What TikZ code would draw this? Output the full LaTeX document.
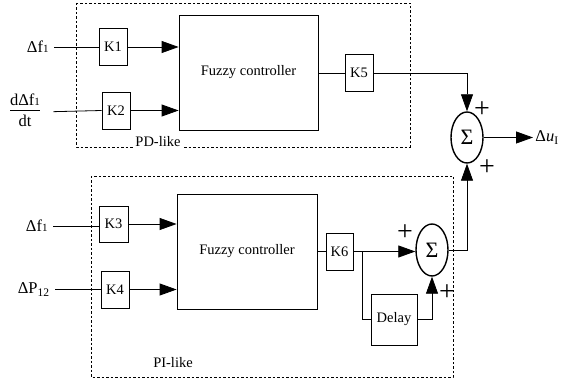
\documentclass[tikz,border=0pt]{standalone}
\usepackage{fontspec}
\setmainfont{Liberation Serif}
\usetikzlibrary{arrows.meta,shapes.geometric}

\tikzset{
  gain/.style={draw,minimum width=28pt,minimum height=37pt,inner sep=0pt},
  fuzzy/.style={draw,minimum width=139pt,minimum height=115pt},
  sumnode/.style={draw,ellipse,line width=1.4pt,minimum width=32pt,minimum height=51pt,inner sep=0pt,
    font=\fontsize{22}{22}\selectfont},
  group/.style={dash pattern=on 2.5pt off 2pt,line width=0.8pt},
  sig/.style={-{Triangle[length=17pt,width=12pt]}},
  sign/.style={font=\fontsize{28}{28}\selectfont,inner sep=0pt},
  inlbl/.style={anchor=east,inner sep=5pt,font=\fontsize{16.5}{19}\selectfont}
}
\newcommand{\sone}{{\fontsize{11}{11}\selectfont 1}}

\begin{document}
\begin{tikzpicture}[x=1pt,y=-1pt,line width=0.8pt,font=\fontsize{14.5}{17}\selectfont]
  \useasboundingbox (0,0) rectangle (562,379);

  % PD-like part
  \draw[group] (76,3) rectangle (410,147);
  \node[fill=white,inner sep=1pt] (pdlbl) at (158,142) {PD-like};
  \node[fuzzy] (fz1) at (248.5,72.5) {Fuzzy controller};
  \node[gain] (k1) at (113,47) {K1};
  \node[gain] (k2) at (116,110.5) {K2};
  \node[gain] (k5) at (359,73) {K5};
  \node[inlbl] (in1) at (54,47) {Δf\sone};
  \node[inner sep=0pt,font=\fontsize{16.5}{19}\selectfont] (in2) at (25,112)
    {\begin{tabular}{@{}c@{}}dΔf\sone\\[-1pt]\hline\rule{0pt}{16pt}dt\end{tabular}};
  \draw (in1.east) -- (k1.west);
  \draw[shorten <=13pt] (in2.east) -- (k2.west);
  \draw[sig] (k1.east) -- (k1.east -| fz1.west);
  \draw[sig] (k2.east) -- (k2.east -| fz1.west);
  \draw (fz1.east |- k5) -- (k5.west);

  % summation and output
  \node[sumnode] (s1) at (467,137.5) {Σ};
  \node[sign] (p1) at (482,110) {+};
  \node[sign] (p2) at (487,168) {+};
  \node[anchor=west,inner sep=2pt,font=\fontsize{16.5}{19}\selectfont] (out) at (533,137.5) {Δ\textit{u}\textsubscript{I}};
  \draw[sig] (k5.east) -| (s1.north);
  \draw[sig] (s1.east) -- (out.west);

  % PI-like part
  \draw[group] (91,176) rectangle (453,377);
  \node (pilbl) at (173,363) {PI-like};
  \node[fuzzy,minimum width=140pt] (fz2) at (247,251.5) {Fuzzy controller};
  \node[gain,minimum width=29pt,minimum height=36pt] (k3) at (113.5,224) {K3};
  \node[gain] (k4) at (115,289.5) {K4};
  \node[gain,minimum width=27pt] (k6) at (339.5,251.5) {K6};
  \node[inlbl] (in3) at (53,226) {Δf\sone};
  \node[inlbl] (in4) at (55,289.5) {ΔP\textsubscript{12}};
  \draw (in3.east) -- (in3.east -| k3.west);
  \draw (in4.east) -- (k4.west);
  \draw[sig] (k3.east) -- (k3.east -| fz2.west);
  \draw[sig] (k4.east) -- (k4.east -| fz2.west);
  \draw (fz2.east |- k6) -- (k6.west);

  % accumulation with delay
  \node[sumnode,minimum height=52pt] (s2) at (432,250) {Σ};
  \node[draw,minimum width=46pt,minimum height=51pt] (dly) at (394,319.5) {Delay};
  \node[sign] (p3) at (405,233) {+};
  \node[sign] (p4) at (447,293) {+};
  \coordinate (br) at (362,251.5);
  \draw[sig] (k6.east) -- (k6.east -| s2.west);
  \draw (br) |- (dly.west);
  \draw[sig] (dly.east) -| (s2.south);
  \draw[sig] (s2.east) -| (s1.south);
\end{tikzpicture}
\end{document}
